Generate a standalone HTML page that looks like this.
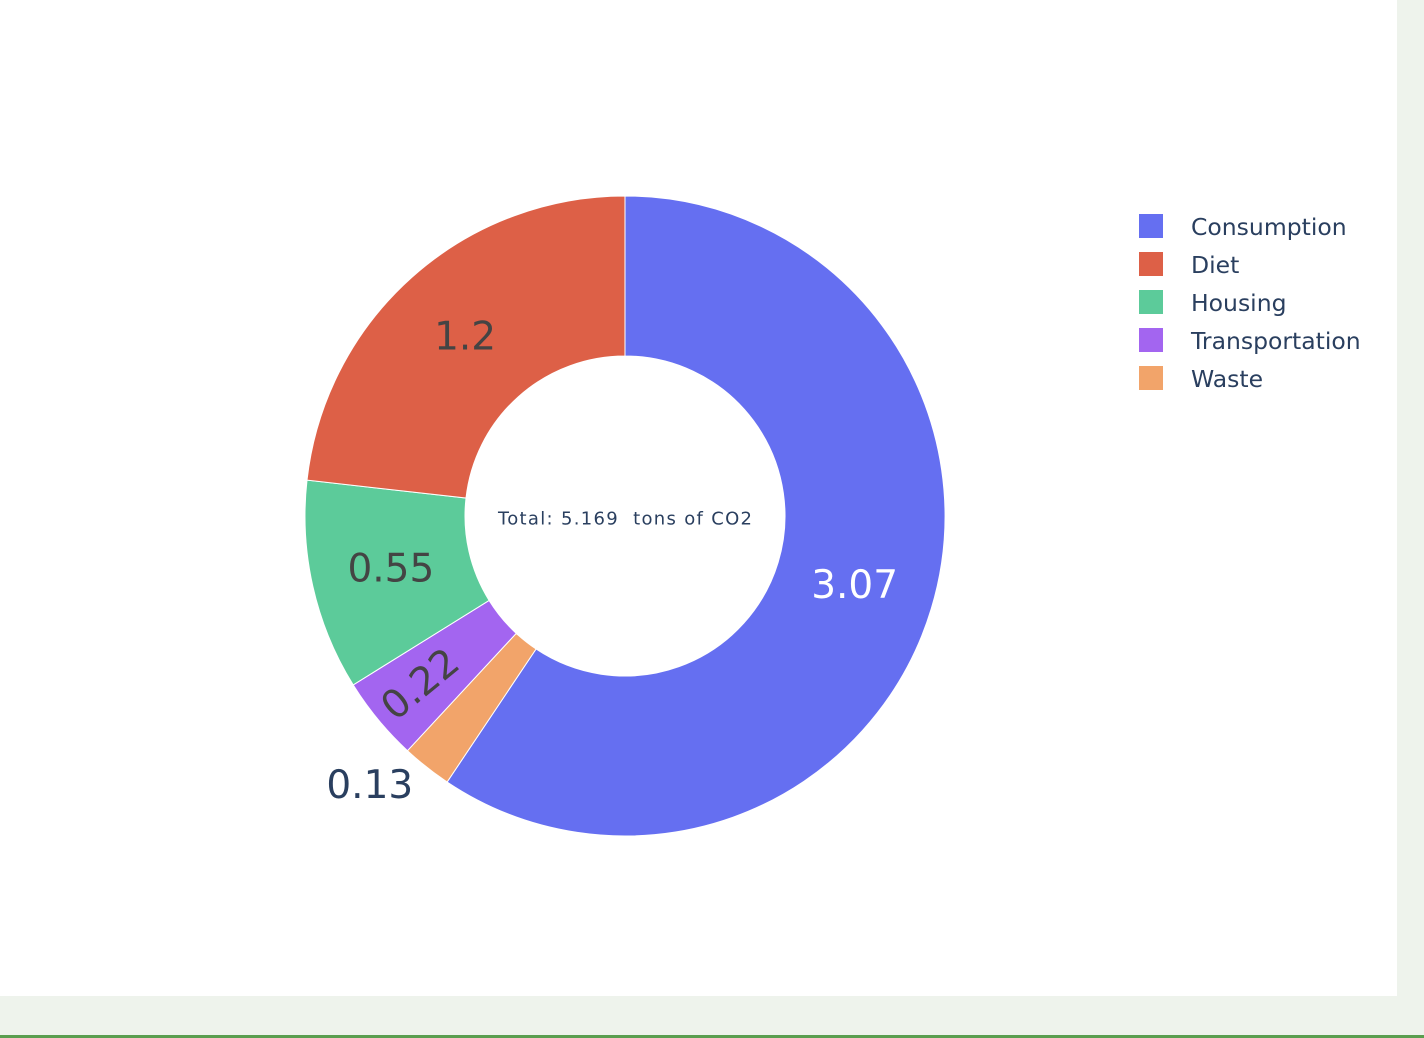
<!DOCTYPE html>
<html><head><meta charset="utf-8"><style>
html,body{margin:0;padding:0;width:1424px;height:1038px;overflow:hidden;background:#eef3ec;}
#panel{position:absolute;left:0;top:0;width:1397px;height:996px;background:#fff;}
#chart{position:absolute;left:0;top:0;}
text{font-family:"DejaVu Sans","Liberation Sans",sans-serif;white-space:pre;}
</style></head><body>
<div id="panel"></div>
<div style="position:absolute;left:0;top:1035px;width:1424px;height:3px;background:#5a9e4f"></div>
<svg id="chart" width="1424" height="1038"></svg>
<script>
const categories=["Consumption","Waste","Transportation","Housing","Diet"];
const values=[3.07,0.13,0.22,0.55,1.2];
const colors=["#656ff1","#f2a46a","#a365f0","#5ccb9a","#dd6047"];
const legendOrder=["Consumption","Diet","Housing","Transportation","Waste"];
const totalLabel="Total: 5.169  tons of CO2";
const NS="http://www.w3.org/2000/svg";
const svg=document.getElementById('chart');
const cx=625,cy=516,R=320,r=160;
const total=values.reduce((a,b)=>a+b,0);
function pt(a,rad){return [cx+rad*Math.sin(a),cy-rad*Math.cos(a)];}
let acc=0;
values.forEach((v,i)=>{
  const a0=acc/total*2*Math.PI; acc+=v; const a1=acc/total*2*Math.PI;
  const large=(a1-a0)>Math.PI?1:0;
  const [x0,y0]=pt(a0,R),[x1,y1]=pt(a1,R),[x2,y2]=pt(a1,r),[x3,y3]=pt(a0,r);
  const p=document.createElementNS(NS,'path');
  p.setAttribute('d',`M${x0},${y0}A${R},${R} 0 ${large} 1 ${x1},${y1}L${x2},${y2}A${r},${r} 0 ${large} 0 ${x3},${y3}Z`);
  p.setAttribute('fill',colors[i]);p.setAttribute('stroke','#fff');p.setAttribute('stroke-width','1');
  
  
  svg.appendChild(p);
  const am=(a0+a1)/2, frac=v/total;
  const t=document.createElementNS(NS,'text');
  t.textContent=String(v);
  t.setAttribute('font-size','39');
  t.setAttribute('text-anchor','middle');
  t.setAttribute('dominant-baseline','central');
  if(frac<0.03){
    const [lx,ly]=pt(am,R+45);
    t.setAttribute('x',lx-29);t.setAttribute('y',ly-17);t.setAttribute('fill','#2a3f5f');
  } else {
    const rr=frac<0.06?265:(R+r)/2;
    const [lx,ly]=pt(am,rr);
    t.setAttribute('x',lx);t.setAttribute('y',ly);
    t.setAttribute('fill',i===0?'#fff':'#444');
    if(frac<0.06){let deg=am*180/Math.PI-90;if(deg>90)deg-=180;t.setAttribute('transform',`rotate(${deg} ${lx} ${ly})`);}
  }
  
  
  svg.appendChild(t);
});
const c=document.createElementNS(NS,'text');
c.textContent=totalLabel;c.setAttribute('x',498);c.setAttribute('y',cy+3);
c.setAttribute('textLength','254');c.setAttribute('lengthAdjust','spacing');
c.setAttribute('dominant-baseline','central');
c.setAttribute('font-size','18');c.setAttribute('fill','#2a3f5f');


svg.appendChild(c);
legendOrder.forEach((name,j)=>{
  const i=categories.indexOf(name);
  const g=document.createElementNS(NS,'g');
  
  
  const y=226+j*38;
  const rc=document.createElementNS(NS,'rect');
  rc.setAttribute('x',1139);rc.setAttribute('y',y-12);rc.setAttribute('width',24);rc.setAttribute('height',24);rc.setAttribute('fill',colors[i]);
  const tt=document.createElementNS(NS,'text');
  tt.textContent=name;tt.setAttribute('x',1191);tt.setAttribute('y',y+1);tt.setAttribute('dominant-baseline','central');
  tt.setAttribute('font-size','23.5');tt.setAttribute('fill','#2a3f5f');
  g.appendChild(rc);g.appendChild(tt);svg.appendChild(g);
});
</script>
</body></html>
